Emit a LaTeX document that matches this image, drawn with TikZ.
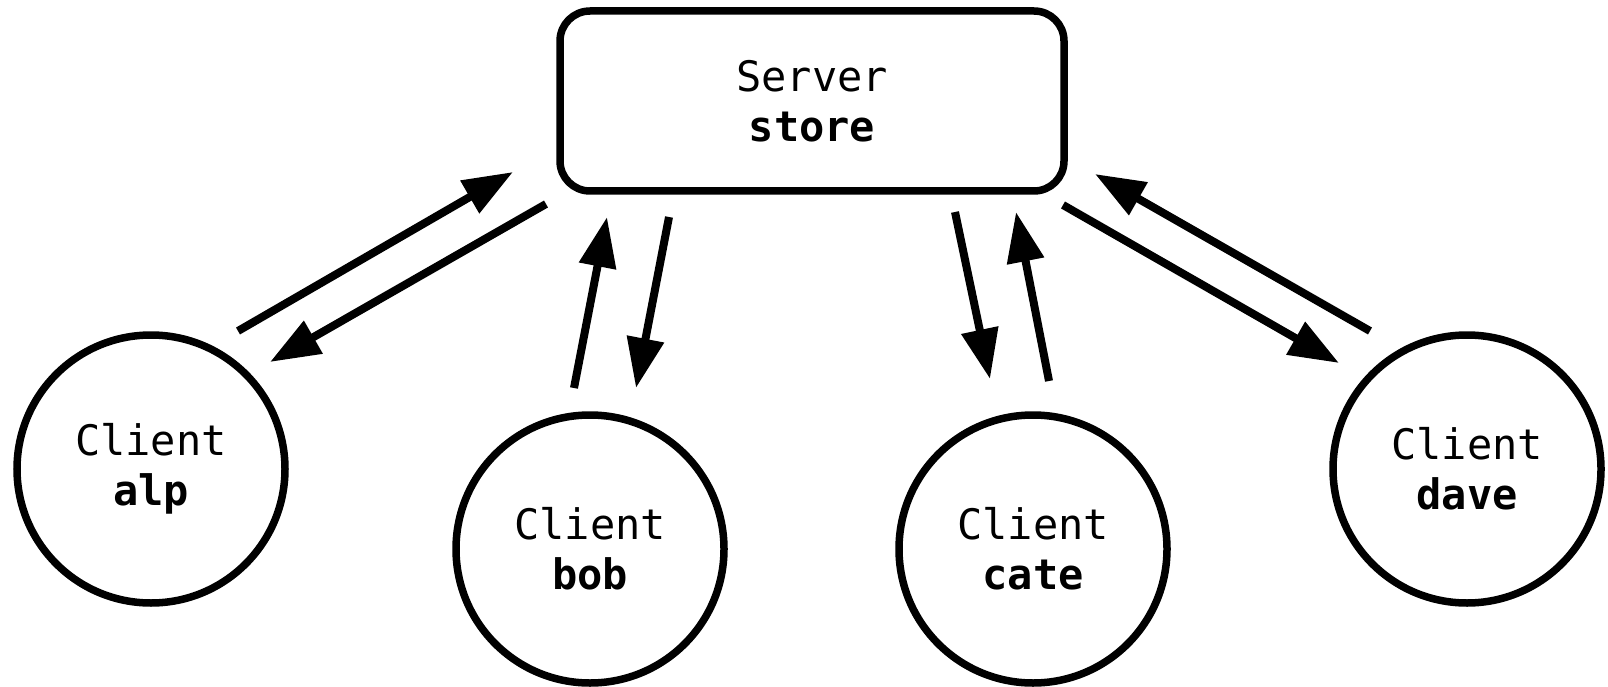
\documentclass[tikz,border=0pt]{standalone}
\usepackage{fontspec}
\setmonofont{DejaVu Sans Mono}
\usetikzlibrary{arrows.meta}
\tikzset{
  server/.style={draw, line width=7.5pt, rounded corners=30pt, minimum width=504pt, minimum height=180pt, inner sep=0pt, align=center, font=\ttfamily\fontsize{42}{50}\selectfont},
  client/.style={draw, circle, line width=7.5pt, minimum size=268pt, inner sep=0pt, align=center, font=\ttfamily\fontsize{42}{50}\selectfont},
  arr/.style={line width=8pt, -{Triangle[length=50pt,width=36pt]}},
}
\begin{document}
\begin{tikzpicture}[x=1pt,y=-1pt]
\useasboundingbox (0,0) rectangle (1608,687);
\node[server] (srv) at (812,101) {Server\\\textbf{store}};
\node[client] (alp) at (151,469) {Client\\\textbf{alp}};
\node[client] (bob) at (590,549) {Client\\\textbf{bob}};
\node[client] (cate) at (1033,549) {Client\\\textbf{cate}};
\node[client] (dave) at (1467,469) {Client\\\textbf{dave}};
% arrow end points
\coordinate (a1s) at (238,331); \coordinate (a1e) at (513,172);
\coordinate (a2s) at (546,204); \coordinate (a2e) at (270,362);
\coordinate (b1s) at (574,388); \coordinate (b1e) at (607,217);
\coordinate (b2s) at (669,217); \coordinate (b2e) at (636,388);
\coordinate (c1s) at (955,212); \coordinate (c1e) at (990,379);
\coordinate (c2s) at (1049,381); \coordinate (c2e) at (1016,212);
\coordinate (d1s) at (1063,205); \coordinate (d1e) at (1339,363);
\coordinate (d2s) at (1370,331); \coordinate (d2e) at (1095,174);
\draw[arr] (a1s) -- (a1e);
\draw[arr] (a2s) -- (a2e);
\draw[arr] (b1s) -- (b1e);
\draw[arr] (b2s) -- (b2e);
\draw[arr] (c1s) -- (c1e);
\draw[arr] (c2s) -- (c2e);
\draw[arr] (d1s) -- (d1e);
\draw[arr] (d2s) -- (d2e);
\end{tikzpicture}
\end{document}
